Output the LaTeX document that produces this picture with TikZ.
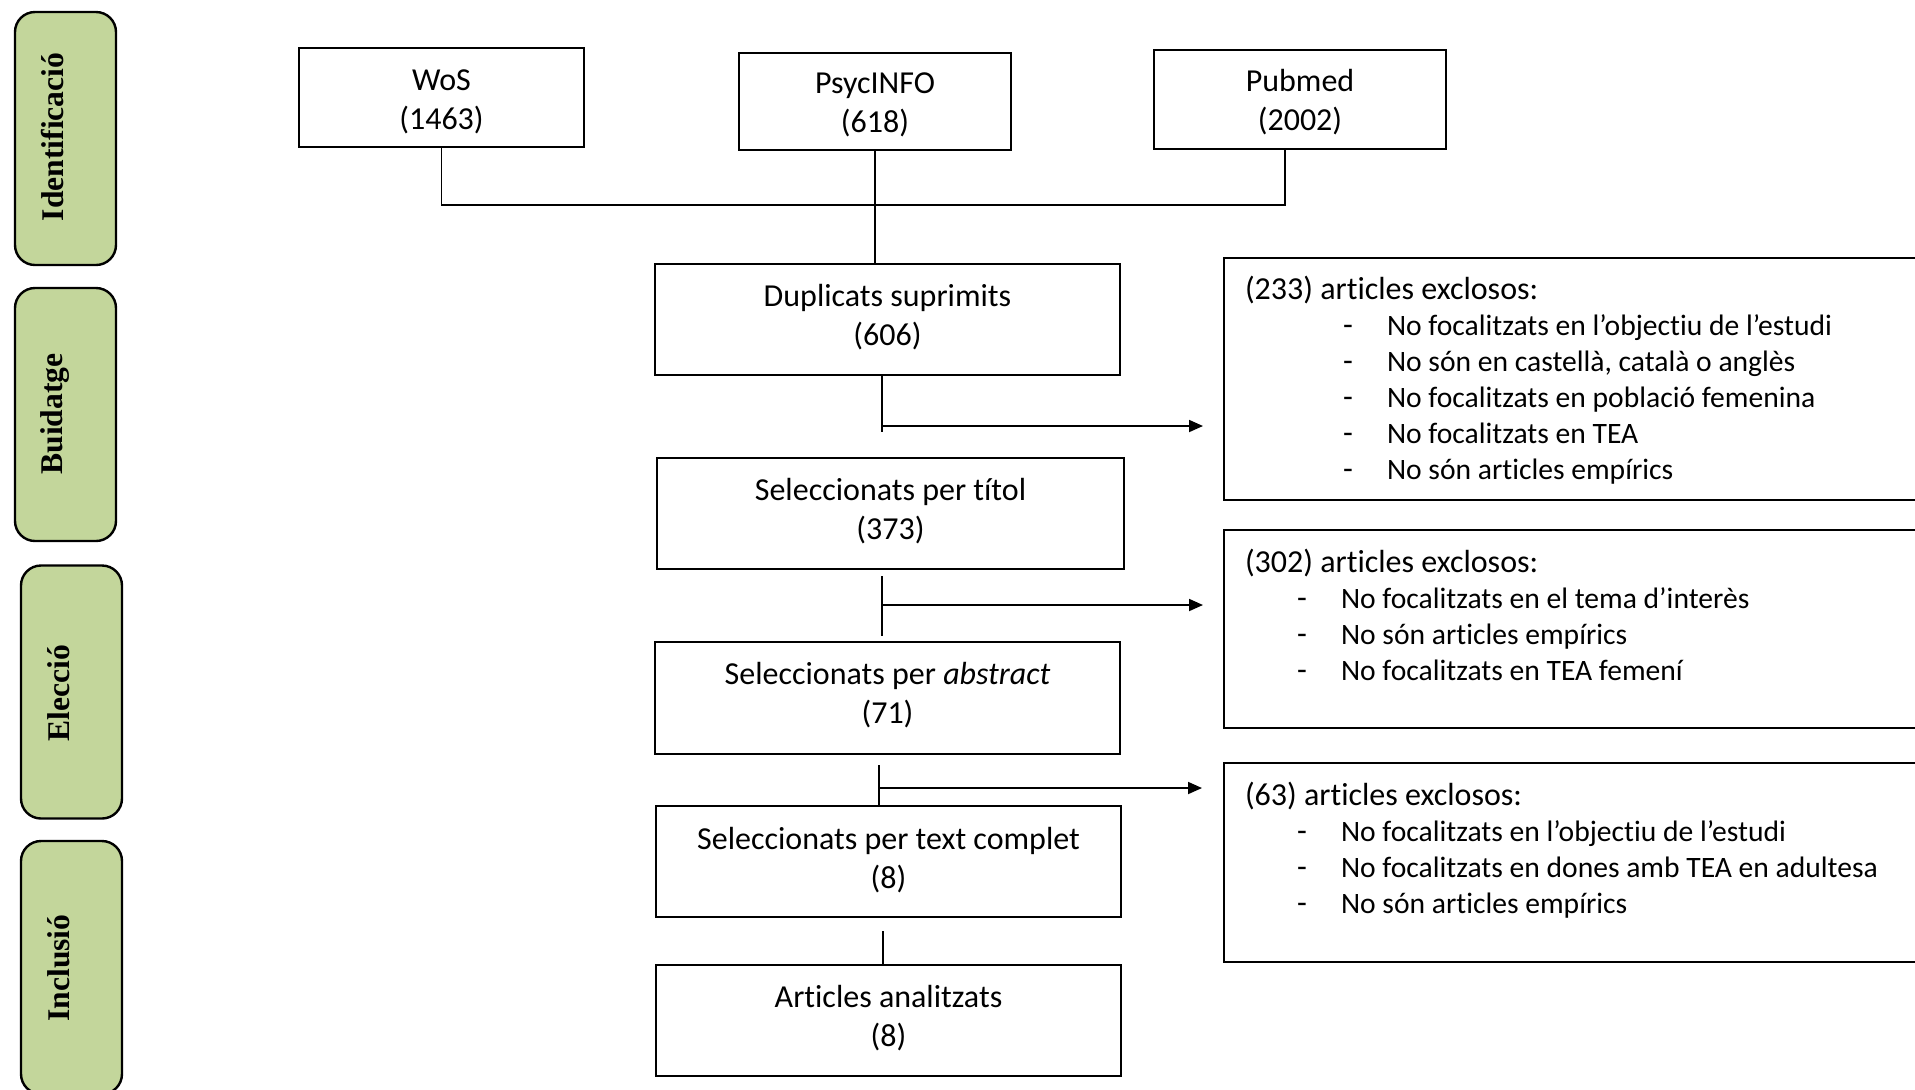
\documentclass[tikz,border=0pt]{standalone}
\usepackage{fontspec}
\setmainfont{Carlito}[Ligatures=NoCommon]
\newfontfamily\lblfont{Liberation Serif}
\usetikzlibrary{arrows.meta}
\definecolor{phasegreen}{HTML}{C3D69B}
\newcommand\mytwoline[3]{\raisebox{#1}[\height][\depth]{\begin{tabular}{@{}c@{}}#2\\#3\end{tabular}}}
\newcommand\myexitem[2]{\hspace*{#1}\makebox[22pt][l]{-}{\fontsize{14.8}{18}\selectfont #2}}
\begin{document}
\begin{tikzpicture}[x=0.5pt,y=-0.5pt,
  every node/.style={inner sep=0pt, outer sep=0pt},
  mainbox/.style={draw, line width=1.2pt, align=center, font=\fontsize{16}{19.5}\selectfont},
  phase/.style={draw, line width=1.2pt, rounded corners=10pt, fill=phasegreen, minimum width=50.5pt, minimum height=126.5pt},
  phaselabel/.style={rotate=90, anchor=base, font=\lblfont\bfseries\fontsize{15.8}{18}\selectfont},
  exbox/.style={draw, line width=1.2pt, anchor=north west, minimum width=360pt},
  extext/.style={anchor=base west, font=\fontsize{16}{18}\selectfont},
  link/.style={line width=0.9pt},
  arr/.style={line width=0.9pt, -{Triangle[length=7pt,width=6pt]}}
]
\useasboundingbox (0,0) rectangle (1915,1089);
\clip (0,0) rectangle (1915,1089);

% phase labels
\node[phase] (pid) at (65.5,138.5) {};
\node[phase] (pbu) at (65.5,414.5) {};
\node[phase] (pel) at (71.5,692) {};
\node[phase] (pin) at (71.5,967.5) {};
\node[phaselabel] (lid) at (63,137) {Identificació};
\node[phaselabel] (lbu) at (62,414) {Buidatge};
\node[phaselabel] (lel) at (69,693) {Elecció};
\node[phaselabel] (lin) at (69,968) {Inclusió};

% sources
\node[mainbox, minimum width=142.5pt, minimum height=49.5pt] (wos) at (441.5,97.5) {\mytwoline{-2.4pt}{WoS}{(1463)}};
\node[mainbox, minimum width=136pt, minimum height=48.5pt] (psyc) at (875,101.5) {\mytwoline{-1.9pt}{PsycINFO}{(618)}};
\node[mainbox, minimum width=146pt, minimum height=49.5pt] (pub) at (1300,99.5) {\mytwoline{-1.7pt}{Pubmed}{(2002)}};

% main flow
\node[mainbox, minimum width=232.5pt, minimum height=55.5pt] (dup) at (887.5,319.5) {\mytwoline{0.8pt}{Duplicats suprimits}{(606)}};
\node[mainbox, minimum width=233.5pt, minimum height=55.5pt] (tit) at (890.5,513.5) {\mytwoline{0.7pt}{Seleccionats per títol}{(373)}};
\node[mainbox, minimum width=232.5pt, minimum height=56pt] (abs) at (887.5,698) {\mytwoline{0.75pt}{Seleccionats per \textit{abstract}}{(71)}};
\node[mainbox, minimum width=232.5pt, minimum height=55.5pt] (comp) at (888.5,861.5) {\mytwoline{0.1pt}{Seleccionats per text complet}{(8)}};
\node[mainbox, minimum width=232.5pt, minimum height=55.5pt] (art) at (888.5,1020.5) {\mytwoline{0.8pt}{Articles analitzats}{(8)}};

% exclusion boxes
\node[exbox, minimum height=121pt] (ex1) at (1224,258) {};
\node[exbox, minimum height=99pt] (ex2) at (1224,530) {};
\node[exbox, minimum height=99.5pt] (ex3) at (1224,763) {};

\node[extext] (t1) at (1245,299.5) {\begin{tabular}[t]{@{}l@{}}
(233) articles exclosos:\\
\myexitem{49pt}{No focalitzats en l’objectiu de l’estudi}\\
\myexitem{49pt}{No són en castellà, català o anglès}\\
\myexitem{49pt}{No focalitzats en població femenina}\\
\myexitem{49pt}{No focalitzats en TEA}\\
\myexitem{49pt}{No són articles empírics}
\end{tabular}};
\node[extext] (t2) at (1245,572.5) {\begin{tabular}[t]{@{}l@{}}
(302) articles exclosos:\\
\myexitem{26pt}{No focalitzats en el tema d’interès}\\
\myexitem{26pt}{No són articles empírics}\\
\myexitem{26pt}{No focalitzats en TEA femení}
\end{tabular}};
\node[extext] (t3) at (1245,805) {\begin{tabular}[t]{@{}l@{}}
(63) articles exclosos:\\
\myexitem{26pt}{No focalitzats en l’objectiu de l’estudi}\\
\myexitem{26pt}{No focalitzats en dones amb TEA en adultesa}\\
\myexitem{26pt}{No són articles empírics}
\end{tabular}};

% connectors: sources
\coordinate (pubfoot) at (1285,149);
\coordinate (jn) at (1285,205);
\draw[link] (wos.south) |- (jn) -- (pubfoot);
\draw[link] (psyc.south) -- (psyc.south |- dup.north);

% connectors: flow
\coordinate (s1a) at (882,375);
\coordinate (s1b) at (882,432);
\coordinate (s1c) at (882,426);
\coordinate (e1) at (1203,426);
\draw[link] (s1a) -- (s1b);
\draw[arr] (s1c) -- (e1);

\coordinate (s2a) at (882,576);
\coordinate (s2b) at (882,636);
\coordinate (s2c) at (882,605);
\coordinate (e2) at (1203,605);
\draw[link] (s2a) -- (s2b);
\draw[arr] (s2c) -- (e2);

\coordinate (s3a) at (879,765);
\coordinate (s3c) at (879,788);
\coordinate (e3) at (1202,788);
\draw[link] (s3a) -- (s3a |- comp.north);
\draw[arr] (s3c) -- (e3);

\coordinate (s4a) at (883,931);
\draw[link] (s4a) -- (s4a |- art.north);
\end{tikzpicture}
\end{document}
